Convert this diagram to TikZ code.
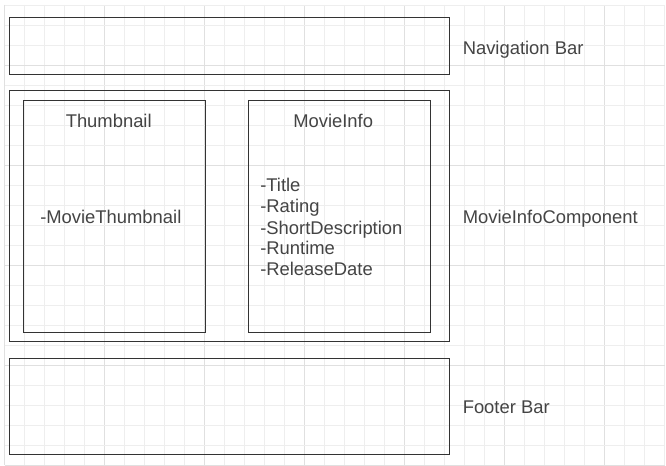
\documentclass[tikz,border=0pt]{standalone}
\usepackage{fontspec}
\setmainfont{Liberation Sans}
\usetikzlibrary{fit}
\definecolor{minorgrid}{HTML}{EEEEEE}
\definecolor{majorgrid}{HTML}{E0E0E0}
\definecolor{boxline}{HTML}{333333}
\definecolor{txt}{HTML}{444444}
\tikzset{
  box/.style={draw=boxline, line width=0.75pt, inner sep=0pt, fill=none},
  lbl/.style={anchor=base west, inner sep=0pt, text=txt, font=\fontsize{13.8pt}{15.75pt}\selectfont},
}
\begin{document}
\begin{tikzpicture}[x=0.75pt, y=-0.75pt]
\useasboundingbox (0,0) rectangle (666,466);
\fill[white] (0,0) rectangle (666,466);
% grid
\foreach \i in {0,...,33} {
  \pgfmathtruncatemacro{\m}{mod(\i-5,5)==0 ? 1 : 0}
  \ifnum\m=1 \def\gc{majorgrid}\else\def\gc{minorgrid}\fi
  \draw[\gc, line width=0.75pt] (4.5+20*\i,5) -- (4.5+20*\i,465);
}
\foreach \j in {0,...,23} {
  \pgfmathtruncatemacro{\m}{mod(\j-3,5)==0 ? 1 : 0}
  \ifnum\m=1 \def\gc{majorgrid}\else\def\gc{minorgrid}\fi
  \draw[\gc, line width=0.75pt] (4.5,5.3+20*\j) -- (665,5.3+20*\j);
}
% boxes
\node[box, fit={(9,18) (449,75)}] (nav) {};
\node[box, fit={(9,91) (449,341)}] (main) {};
\node[box, fit={(23,101) (205,332)}] (thumb) {};
\node[box, fit={(248,101) (430,332)}] (info) {};
\node[box, fit={(9,358) (449,454)}] (footer) {};
% labels
\node[lbl] (navlbl) at (462.5,54.3) {Navigation Bar};
\node[lbl] (mainlbl) at (462.5,223.3) {MovieInfoComponent};
\node[lbl] (footlbl) at (462.5,413.3) {Footer Bar};
\node[lbl] (thumbtitle) at (65.5,127.3) {Thumbnail};
\node[lbl] (thumbitem) at (40,224) {-MovieThumbnail};
\node[lbl] (infotitle) at (293,127.3) {MovieInfo};
\node[lbl] (i1) at (260,192) {-Title};
\node[lbl] (i2) at (260,213) {-Rating};
\node[lbl] (i3) at (260,234) {-ShortDescription};
\node[lbl] (i4) at (260,255) {-Runtime};
\node[lbl] (i5) at (260,276) {-ReleaseDate};
\end{tikzpicture}
\end{document}
